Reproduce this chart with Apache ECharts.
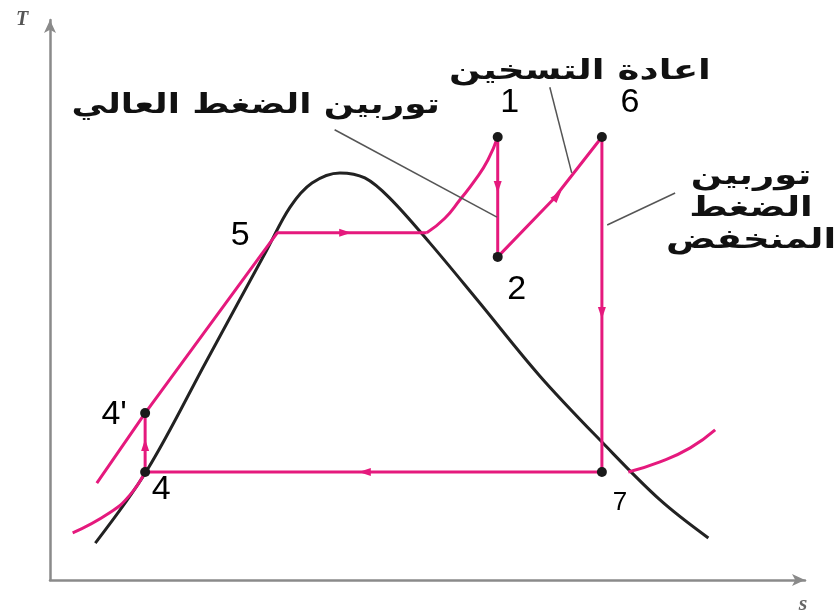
<!DOCTYPE html>
<html>
<head>
<meta charset="utf-8">
<script src="https://cdn.jsdelivr.net/npm/echarts@6/dist/echarts.min.js"></script>
<style>
  html, body { margin: 0; padding: 0; background: #fff; }
  #chart { width: 835px; height: 614px; }
</style>
</head>
<body>
<div id="chart"></div>
<script>
document.addEventListener('DOMContentLoaded', function() {

/* DATOS: s (entropia) , T (temperatura) en unidades relativas 0-100 */
var domeCurve = [
  [6.0, 6.6], [12.85, 19.6], [20.8, 39.3], [28.7, 58.9], [31.8, 66.6], [34.7, 70.9],
  [38.4, 72.7], [41.7, 71.8], [45.0, 68.2], [50.3, 60.2], [56.6, 50.0], [64.9, 36.4],
  [73.2, 24.5], [80.8, 14.3], [87.2, 7.5]
];

// linea de alta presion (liquido) hasta 5 y evaporacion
var highPressLine = [[6.2, 17.3], [12.6, 29.8], [30.1, 62.0], [49.9, 62.0]];
// sobrecalentamiento hasta 1
var superheatCurve = [[49.9, 62.0], [52.3, 64.6], [54.3, 67.9], [56.3, 71.4], [58.0, 75.0], [59.3, 79.1]];
// 1 -> 2 -> 6 -> 7 -> 4 -> 4'
var cyclePath = [[59.3, 79.1], [59.3, 57.7], [66.6, 67.9], [73.1, 79.1], [73.1, 19.3], [12.6, 19.3], [12.6, 29.8]];
// lineas de baja presion
var lowPressLiquid = [[3.0, 8.4], [7.9, 12.0], [10.6, 15.2], [12.6, 19.3]];
var lowPressVapor = [[76.6, 19.3], [80.8, 21.1], [84.8, 23.6], [88.1, 26.8]];

// puntos del ciclo
var pointNames = ['1', '2', '6', '7', '4', "4'", '5'];
var pointS = [59.3, 59.3, 73.1, 73.1, 12.6, 12.6, 30.1];
var pointT = [79.1, 57.7, 79.1, 19.3, 19.3, 29.8, 62.0];
var pointDot = [true, true, true, true, true, true, false];

// flechas de direccion (angulo de avance en grados)
var arrowS = [39.1, 59.3, 67.2, 73.1, 41.7, 12.6];
var arrowT = [62.0, 70.2, 68.6, 47.7, 19.3, 24.1];
var arrowDir = [0, 270, 49, 270, 180, 90];

// lineas guia de las etiquetas
var hpLeader = [[37.7, 80.4], [59.2, 64.8]];
var reheatLeader = [[66.2, 88.0], [69.1, 72.7]];
var lpLeader = [[82.8, 69.1], [73.8, 63.4]];

var labelHP = 'توربين الضغط العالي';
var labelReheat = 'اعادة التسخين';
var labelLP = ['توربين', 'الضغط', 'المنخفض'];

/* ESTILOS */
var PINK = '#e5197d';
var labelOffsets = {
  '1': [12, -34], '2': [19, 33], '6': [28, -34], '7': [18, 31],
  '4': [16, 18], "4'": [-31, 2], '5': [-37, 3]
};
var arabicStyle = { fontSize: 27, fontWeight: 'bold', fontFamily: 'DejaVu Sans', fill: '#111', verticalAlign: 'middle' };

var chartDom = document.getElementById('chart');
var myChart = echarts.init(chartDom);

function lineSerie(data, color, smooth) {
  return {
    type: 'line', data: data, smooth: smooth, showSymbol: false, silent: true,
    lineStyle: { color: color, width: 3 }, z: 2
  };
}

function arabicText(text, x, y, align, sx) {
  return {
    type: 'text', x: x, y: y, scaleX: sx,
    style: Object.assign({ text: text, align: align }, arabicStyle)
  };
}

var points = pointNames.map(function(n, i) {
  return {
    value: [pointS[i], pointT[i]],
    symbolSize: pointDot[i] ? 10 : 0,
    label: {
      show: true, formatter: n, offset: labelOffsets[n],
      fontSize: n === '7' ? 26 : 34
    }
  };
});

var arrows = arrowS.map(function(s, i) {
  return { value: [s, arrowT[i]], symbolRotate: arrowDir[i] - 90 };
});

var lpGraphics = labelLP.map(function(t, i) {
  return arabicText(t, 751, 177 + i * 32, 'center', 1.37);
});

var option = {
  animation: false,
  backgroundColor: '#fff',
  grid: { left: 50, right: 30, top: 20, bottom: 34 },
  xAxis: {
    type: 'value', min: 0, max: 100,
    axisLine: { show: true, onZero: false, lineStyle: { color: '#8a8a8a', width: 2.5 }, symbol: ['none', 'arrow'], symbolSize: [9, 13] },
    axisTick: { show: false }, axisLabel: { show: false }, splitLine: { show: false }
  },
  yAxis: {
    type: 'value', min: 0, max: 100,
    axisLine: { show: true, onZero: false, lineStyle: { color: '#8a8a8a', width: 2.5 }, symbol: ['none', 'arrow'], symbolSize: [9, 13] },
    axisTick: { show: false }, axisLabel: { show: false }, splitLine: { show: false }
  },
  graphic: [
    { type: 'text', x: 22, y: 20, style: { text: 'T', fontSize: 20, fontStyle: 'italic', fontWeight: 'bold', fontFamily: 'Liberation Serif', fill: '#555', align: 'center', verticalAlign: 'middle' } },
    { type: 'text', x: 803, y: 604, style: { text: 's', fontSize: 22, fontStyle: 'italic', fontWeight: 'bold', fontFamily: 'Liberation Serif', fill: '#666', align: 'center', verticalAlign: 'middle' } },
    arabicText(labelHP, 440, 106, 'right', 1.32),
    arabicText(labelReheat, 580, 72, 'center', 1.38)
  ].concat(lpGraphics),
  series: [
    { type: 'line', data: domeCurve, smooth: 0.35, showSymbol: false, silent: true, lineStyle: { color: '#222', width: 3 }, z: 1 },
    lineSerie(lowPressLiquid, PINK, true),
    lineSerie(lowPressVapor, PINK, true),
    lineSerie(highPressLine, PINK, false),
    lineSerie(superheatCurve, PINK, true),
    lineSerie(cyclePath, PINK, false),
    { type: 'line', data: hpLeader, showSymbol: false, silent: true, lineStyle: { color: '#555', width: 1.5 }, z: 3 },
    { type: 'line', data: reheatLeader, showSymbol: false, silent: true, lineStyle: { color: '#555', width: 1.5 }, z: 3 },
    { type: 'line', data: lpLeader, showSymbol: false, silent: true, lineStyle: { color: '#555', width: 1.5 }, z: 3 },
    {
      type: 'scatter', data: arrows, symbol: 'triangle', symbolSize: [8, 12], silent: true,
      itemStyle: { color: PINK, opacity: 1 }, z: 4
    },
    {
      type: 'scatter', data: points, symbol: 'circle', silent: true,
      itemStyle: { color: '#1a1a1a', opacity: 1 }, z: 5,
      label: { color: '#000', fontFamily: 'Liberation Sans', position: 'inside', textBorderWidth: 0 }
    }
  ]
};

myChart.setOption(option);

});
</script>
</body>
</html>
